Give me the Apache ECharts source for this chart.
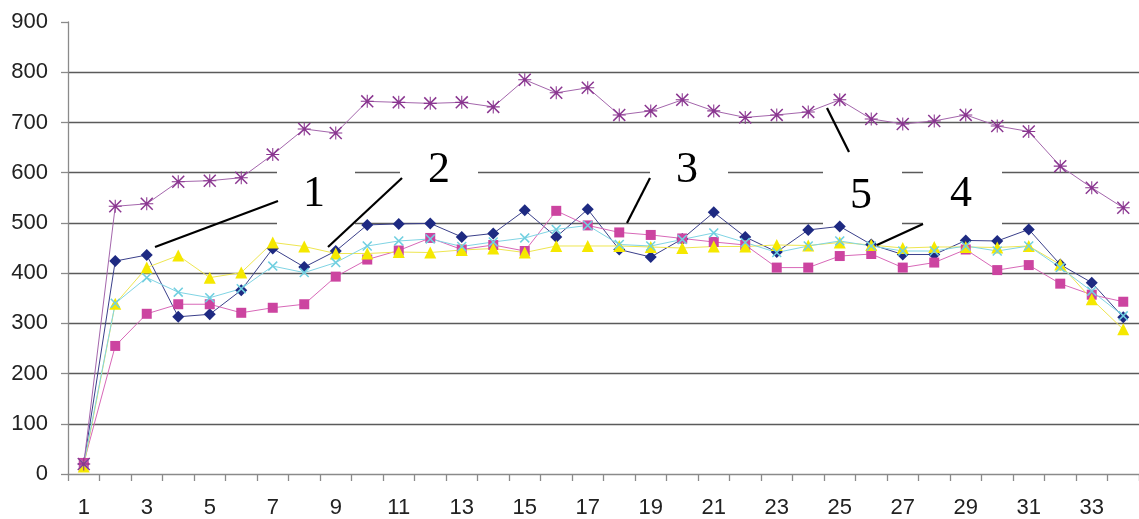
<!DOCTYPE html>
<html>
<head>
<meta charset="utf-8">
<script src="https://cdn.jsdelivr.net/npm/echarts@6/dist/echarts.min.js"></script>
<style>
html,body{margin:0;padding:0;background:#fff;}
#main{width:1139px;height:519px;}
</style>
</head>
<body>
<div id="main"></div>
<script>
var categories = ['1','2','3','4','5','6','7','8','9','10','11','12','13','14','15','16','17','18','19','20','21','22','23','24','25','26','27','28','29','30','31','32','33','34'];
var series1 = [20,424,436,313,318,366,449,412,444,496,498,499,472,479,525,472,527,447,432,468,521,472,442,486,493,457,437,437,465,464,487,417,381,312];
var series2 = [22,255,319,338,338,321,331,338,393,427,445,470,447,456,444,524,495,481,476,469,462,456,411,411,434,438,411,421,447,406,416,379,357,343];
var series3 = [15,339,411,435,391,401,461,453,439,439,442,441,446,449,441,454,454,454,452,450,453,453,456,455,461,456,450,452,452,451,454,417,348,288];
var series4 = [20,340,391,362,351,369,414,401,421,454,464,468,453,462,470,487,495,457,454,467,480,461,441,454,464,454,444,444,454,444,454,411,364,315];
var series5 = [20,533,538,582,584,590,636,687,679,742,740,738,740,731,785,759,769,715,723,745,723,710,715,721,745,707,697,703,715,693,682,613,570,530];
var yTicks = [0,100,200,300,400,500,600,700,800,900];
var annotationLabels = ['1','2','3','5','4'];

var xShape = 'path://M0,1.1 L1.1,0 L10,8.9 L8.9,10 Z M8.9,0 L10,1.1 L1.1,10 L0,8.9 Z';
var starShape = 'path://M0,0.8 L0.8,0 L10,9.2 L9.2,10 Z M9.2,0 L10,0.8 L0.8,10 L0,9.2 Z M4.6,0 L5.4,0 L5.4,10 L4.6,10 Z M0,4.6 L10,4.6 L10,5.4 L0,5.4 Z';

// annotation layout (pixels)
var boxes = [
  {x:277, y:140, w:78, h:93},
  {x:400, y:138, w:78, h:62},
  {x:650, y:138, w:78, h:62},
  {x:823, y:150, w:79, h:83},
  {x:923, y:150, w:79, h:83}
];
var labelPos = [[314,194],[439,170],[687,170],[861,196],[961,194]];
var leaders = [
  [155,247,278,201],
  [328,247,402,178],
  [627,223,650,178],
  [827,108,849,152],
  [877,245,923,224]
];

var chart = echarts.init(document.getElementById('main'));

function mkSeries(name, data, color, lineColor, symbol, size) {
  return {
    name: name, type: 'line', data: data,
    symbol: symbol, symbolSize: size,
    lineStyle: {color: lineColor, width: 1},
    itemStyle: {color: color, borderWidth: 0},
    emphasis: {disabled: true},
    animation: false
  };
}

var graphics = [];
boxes.forEach(function(b){
  graphics.push({type:'rect', shape:{x:b.x, y:b.y, width:b.w, height:b.h}, style:{fill:'#ffffff'}, z:1, silent:true});
});
leaders.forEach(function(l){
  graphics.push({type:'line', shape:{x1:l[0], y1:l[1], x2:l[2], y2:l[3]}, style:{stroke:'#000', lineWidth:2.2}, z:20, silent:true});
});
annotationLabels.forEach(function(t, i){
  graphics.push({type:'text', x:labelPos[i][0], y:labelPos[i][1], style:{text:t, font:'44px "Liberation Serif", "DejaVu Serif", serif', fill:'#000', align:'center', verticalAlign:'middle'}, z:20, silent:true});
});

chart.setOption({
  animation: false,
  backgroundColor: '#fff',
  grid: {left: 68, top: 22, width: 1081, bottom: 44, containLabel: false},
  xAxis: {
    type: 'category', data: categories, boundaryGap: true,
    axisLine: {lineStyle: {color: '#8a8a8a', width: 1.3}},
    axisTick: {show: true, interval: 0, alignWithLabel: false, length: 7, lineStyle: {color: '#8a8a8a', width: 1.3}},
    axisLabel: {interval: 1, margin: 23, fontSize: 22, color: '#222', fontFamily: '"Liberation Sans", Arial, sans-serif'},
    splitLine: {show: false}
  },
  yAxis: {
    type: 'value', min: yTicks[0], max: yTicks[yTicks.length-1], interval: 100,
    axisLine: {show: true, lineStyle: {color: '#8a8a8a', width: 1.3}},
    axisTick: {show: true, length: 7, lineStyle: {color: '#8a8a8a', width: 1.3}},
    axisLabel: {margin: 20, fontSize: 22, color: '#222', fontFamily: '"Liberation Sans", Arial, sans-serif'},
    splitLine: {show: true, showMaxLine: false, showMinLine: false, lineStyle: {color: '#5a5a5a', width: 1.4}}
  },
  series: [
    mkSeries('1', series1, '#1e2a82', '#3a3f8a', 'diamond', 12),
    mkSeries('2', series2, '#cc44a0', '#d868b8', 'rect', 10),
    mkSeries('3', series3, '#f5e800', '#eee650', 'triangle', 12),
    mkSeries('4', series4, '#70cfe0', '#80d4e4', xShape, 10),
    mkSeries('5', series5, '#8a3690', '#a466ac', starShape, 13)
  ],
  graphic: graphics
});
</script>
</body>
</html>
